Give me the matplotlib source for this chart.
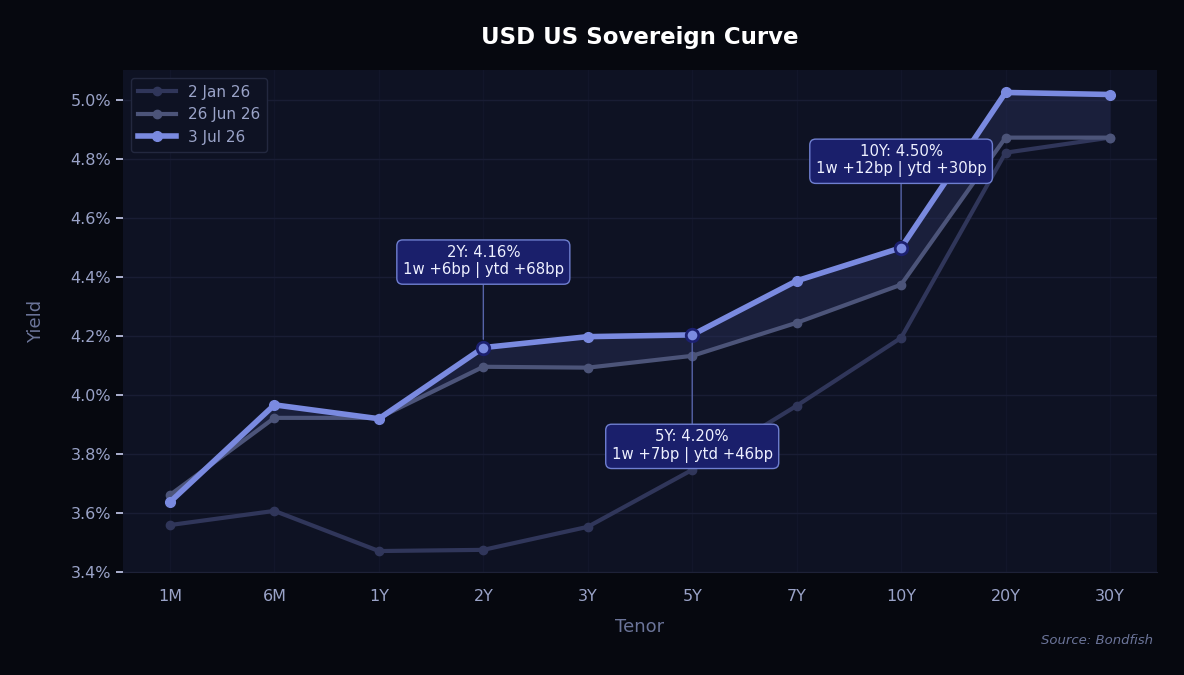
import matplotlib.pyplot as plt
from matplotlib.ticker import FuncFormatter

tenors = ['1M', '6M', '1Y', '2Y', '3Y', '5Y', '7Y', '10Y', '20Y', '30Y']
jan_02 = [3.559, 3.607, 3.471, 3.475, 3.553, 3.746, 3.963, 4.193, 4.820, 4.871]
jun_26 = [3.661, 3.922, 3.922, 4.095, 4.092, 4.132, 4.244, 4.373, 4.871, 4.871]
jul_03 = [3.637, 3.966, 3.919, 4.160, 4.197, 4.203, 4.386, 4.498, 5.024, 5.017]

notes_tenor = ['2Y', '5Y', '10Y']
notes_text = ['2Y: 4.16%\n1w +6bp | ytd +68bp',
              '5Y: 4.20%\n1w +7bp | ytd +46bp',
              '10Y: 4.50%\n1w +12bp | ytd +30bp']
notes_offset = [(0, 86), (0, -111), (0, 87)]

fig_bg = '#06080f'
ax_bg = '#0e1223'
tick_col = '#9aa3c8'
label_col = '#6b7499'

fig = plt.figure(figsize=(11.84, 6.75), dpi=100, facecolor=fig_bg)
ax = fig.add_axes([123 / 1184, 1 - 572 / 675, (1157 - 123) / 1184, (572 - 70) / 675])
ax.set_facecolor(ax_bg)

x = list(range(len(tenors)))

ax.fill_between(x, jun_26, jul_03, color='#2a2f5a', alpha=0.45, lw=0, zorder=1)

ax.plot(x, jan_02, color='#30365a', lw=3, marker='o', ms=6, label='2 Jan 26', zorder=2)
ax.plot(x, jun_26, color='#4c5479', lw=3, marker='o', ms=6, label='26 Jun 26', zorder=3)
ax.plot(x, jul_03, color='#7a8ae0', lw=4, marker='o', ms=7, label='3 Jul 26', zorder=4)

for t, txt, off in zip(notes_tenor, notes_text, notes_offset):
    i = tenors.index(t)
    ax.plot(i, jul_03[i], 'o', ms=9, mfc='#7a8ae0', mec='#1c2070', mew=2, zorder=6)
    ax.annotate(txt, xy=(i, jul_03[i]), xytext=off, textcoords='offset pixels',
                ha='center', va='center', fontsize=10.7, color='#eef0ff',
                bbox=dict(boxstyle='round,pad=0.4', fc='#1a1f6b', ec='#6f7fd0', lw=1),
                arrowprops=dict(arrowstyle='-', color='#5663a8', lw=1, shrinkA=0, shrinkB=6),
                zorder=7)

ax.set_xlim(-0.45, 9.45)
ax.set_ylim(3.4, 5.1)
ax.set_xticks(x)
ax.set_xticklabels(tenors)
ax.set_yticks([3.4, 3.6, 3.8, 4.0, 4.2, 4.4, 4.6, 4.8, 5.0])
ax.yaxis.set_major_formatter(FuncFormatter(lambda v, p: f'{v:.1f}%'))
ax.tick_params(colors=tick_col, labelsize=11.5, length=4)
ax.tick_params(axis='x', length=0, pad=12)
ax.tick_params(axis='y', color='#c8cdf0', length=5, width=1.2)
ax.yaxis.grid(True, color='#191d34', lw=1)
ax.xaxis.grid(True, color='#12162a', lw=1)
ax.set_axisbelow(True)
for s in ax.spines.values():
    s.set_visible(False)
ax.spines['bottom'].set_visible(True)
ax.spines['bottom'].set_color('#1e2238')

ax.set_xlabel('Tenor', color=label_col, fontsize=13, labelpad=10)
ax.set_ylabel('Yield', color=label_col, fontsize=13, labelpad=18)

leg = ax.legend(loc='upper left', fontsize=11, frameon=True, facecolor=ax_bg,
                edgecolor='#23283f', labelcolor=tick_col, handlelength=2.5,
                borderpad=0.45, labelspacing=0.5)
leg.get_frame().set_alpha(1)

fig.text(0.54, 0.944, 'USD US Sovereign Curve', ha='center', va='center',
         color='white', fontsize=16.5, fontweight='bold')
fig.text(1153 / 1184, 1 - 641 / 675, 'Source: Bondfish', ha='right', va='center',
         color='#6b7499', fontsize=9.5, style='italic')

fig.savefig('out.png', dpi=100, facecolor=fig_bg)
